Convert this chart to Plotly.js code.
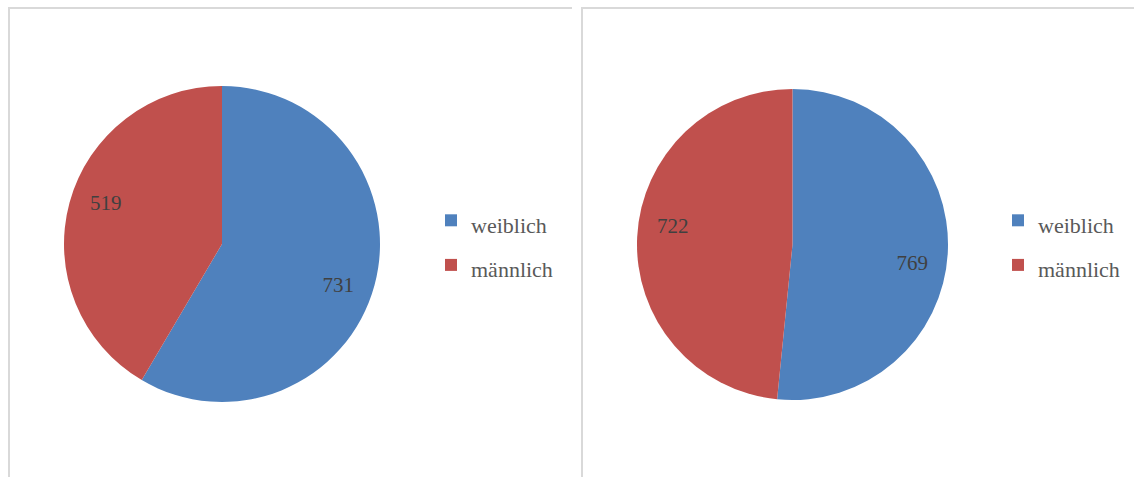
<!DOCTYPE html>
<html>
<head>
<meta charset="utf-8">
<script src="https://cdn.plot.ly/plotly-3.0.1.min.js"></script>
<style>
html,body{margin:0;padding:0;background:#fff;}
#chart{width:1134px;height:477px;}
</style>
</head>
<body>
<div id="chart"></div>
<script>
const categories = ["weiblich", "männlich"];
const valuesLeft = [731, 519];
const valuesRight = [769, 722];
const sliceColors = ["#4F81BD", "#C0504D"];

const W = 1134, H = 477;
const fontFamily = "'Liberation Serif', 'Times New Roman', serif";

// legend labels rendered smaller than the legend line height (gives the wider row spacing)
const legendLabels = categories.map(c => `<span style="font-size:22px">${c}</span>`);

function dom(domX, domY) {
  return {x: [domX[0] / W, domX[1] / W], y: [1 - domY[1] / H, 1 - domY[0] / H]};
}

function pieTrace(values, domX, domY, legendId, group) {
  return {
    type: "pie",
    labels: legendLabels,
    values: values,
    sort: false,
    direction: "clockwise",
    rotation: 0,
    marker: {colors: sliceColors, line: {width: 0}},
    textinfo: "none",
    domain: dom(domX, domY),
    legend: legendId,
    legendgroup: group,
    hoverinfo: "value+percent"
  };
}

// transparent ring overlay that carries the value labels near the rim
function labelTrace(values, domX, domY, legendId, group, rot) {
  return {
    type: "pie",
    labels: categories,
    values: values,
    sort: false,
    direction: "clockwise",
    rotation: rot,
    hole: 0.56,
    marker: {colors: ["rgba(0,0,0,0)", "rgba(0,0,0,0)"], line: {width: 0}},
    textinfo: "value",
    textposition: "inside",
    insidetextorientation: "horizontal",
    textfont: {family: fontFamily, size: 21, color: "#404040"},
    domain: dom(domX, domY),
    legend: legendId,
    legendgroup: group,
    showlegend: false,
    hoverinfo: "skip"
  };
}

const data = [
  pieTrace(valuesLeft, [64, 380], [86, 402], "legend", "left"),
  labelTrace(valuesLeft, [64, 380], [86, 402], "legend", "left", 4),
  pieTrace(valuesRight, [637, 948], [89, 400], "legend2", "right"),
  labelTrace(valuesRight, [637, 948], [89, 400], "legend2", "right", 6)
];

const legendStyle = {
  font: {family: fontFamily, size: 32, color: "#595959"},
  bgcolor: "rgba(0,0,0,0)",
  borderwidth: 0,
  xanchor: "left",
  yanchor: "middle",
  traceorder: "normal",
  itemclick: false
};

const layout = {
  width: W,
  height: H,
  margin: {l: 0, r: 0, t: 0, b: 0},
  paper_bgcolor: "#ffffff",
  showlegend: true,
  legend: Object.assign({}, legendStyle, {x: 431 / W, y: 1 - 243 / H}),
  legend2: Object.assign({}, legendStyle, {x: 998 / W, y: 1 - 243 / H}),
  shapes: [
    {type: "path", xref: "paper", yref: "paper",
     path: `M ${9/W},0 L ${9/W},${1 - 8/H} L ${572/W},${1 - 8/H}`,
     line: {color: "#d9d9d9", width: 2}},
    {type: "path", xref: "paper", yref: "paper",
     path: `M ${582/W},0 L ${582/W},${1 - 8/H} L 1,${1 - 8/H}`,
     line: {color: "#d9d9d9", width: 2}}
  ]
};

Plotly.newPlot("chart", data, layout, {displayModeBar: false, staticPlot: true});
</script>
</body>
</html>
